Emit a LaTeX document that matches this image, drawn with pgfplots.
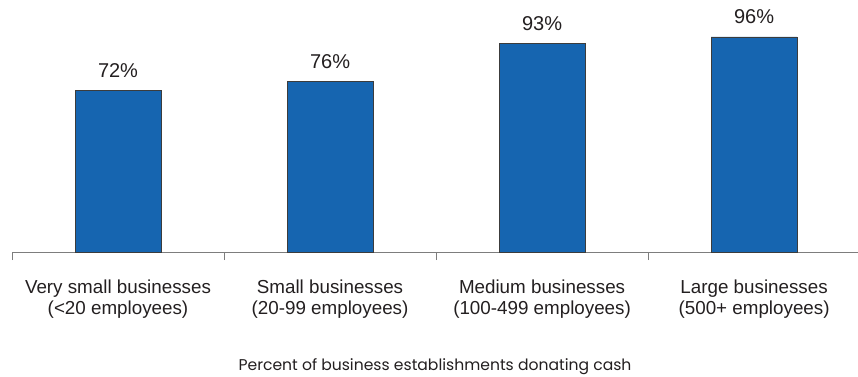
\documentclass[border=0pt]{standalone}
\usepackage{fontspec}
\setmainfont{Liberation Sans}
\newfontfamily\geofont{Poppins}
\usepackage{pgfplots}
\pgfplotsset{compat=1.18}
\definecolor{barblue}{RGB}{22,101,176}
\definecolor{txt}{RGB}{35,31,32}
\definecolor{axgray}{RGB}{125,125,125}
\definecolor{edgegray}{RGB}{60,60,60}
\begin{document}
\begin{tikzpicture}
\begin{axis}[
  at={(0,0)}, anchor=south west,
  scale only axis, width=846bp, height=252bp,
  xmin=-0.5, xmax=3.49, ymin=0, ymax=112.5,
  /pgf/number format/assume math mode=true,
  axis x line*=bottom, axis y line=none,
  axis line style={axgray, line width=0.9bp, -},
  xtick={0,1,2,3},
  xticklabels={{Very small businesses\\(<20 employees)},{Small businesses\\(20-99 employees)},{Medium businesses\\(100-499 employees)},{Large businesses\\(500+ employees)}},
  major x tick style={draw=none},
  minor xtick={-0.5,0.5,1.5,2.5},
  minor tick length=8bp,
  xtick align=outside,
  minor x tick style={axgray, line width=0.9bp},
  xticklabel style={align=center, font=\fontsize{18.8bp}{21.5bp}\selectfont, text=txt, anchor=north, inner sep=0pt, yshift=-23bp},
  ytick=\empty,
  ybar, bar width=86bp,
  nodes near coords={\pgfmathprintnumber{\pgfplotspointmeta}\%},
  nodes near coords style={font=\fontsize{20bp}{24bp}\selectfont, text=txt, anchor=base, yshift=13bp, inner sep=0pt},
  xlabel={Percent of business establishments donating cash},
  xlabel style={at={(axis description cs:0.5,0)}, anchor=base, yshift=-118bp, font=\geofont\fontsize{15.6bp}{18bp}\selectfont, text=txt, inner sep=0pt},
  clip=false,
]
\addplot[fill=barblue, draw=edgegray, line width=0.7bp] coordinates {(0,72) (1,76) (2,93) (3,96)};
\end{axis}
\pgfresetboundingbox
\path[use as bounding box] (-12bp,-125bp) rectangle (846bp,252bp);
\end{tikzpicture}
\end{document}
